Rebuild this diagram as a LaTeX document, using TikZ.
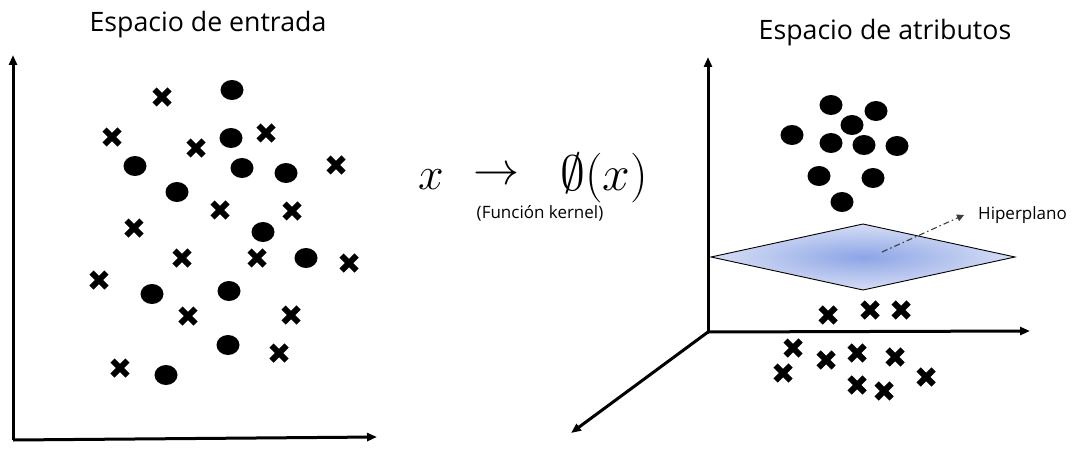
\documentclass[tikz,border=0pt]{standalone}
\usepackage{amssymb}
\usepackage{fontspec}
\setmainfont{Open Sans}
\usetikzlibrary{arrows.meta}
\definecolor{planein}{RGB}{140,165,230}
\definecolor{planeout}{RGB}{215,222,245}
\definecolor{hpgray}{RGB}{60,60,60}
\tikzset{
  axis/.style={line width=3pt, -{Triangle[length=10pt,width=8pt]}},
  xmk/.pic={\draw[line width=6pt] (-7.5,-7.5) -- (7.5,7.5) (-7.5,7.5) -- (7.5,-7.5);},
  titletxt/.style={font=\fontsize{26.7}{30}\selectfont, inner sep=0pt},
  smalltxt/.style={font=\fontsize{17}{20}\selectfont, inner sep=0pt},
  mathtxt/.style={font=\Huge, scale=1.85, inner sep=0pt},
}
\newcommand{\pxdot}[2]{\fill (#1,#2) ellipse [x radius=11.5pt, y radius=10pt];}
\begin{document}
\begin{tikzpicture}[x=1pt, y=-1pt]
\useasboundingbox (0,0) rectangle (1073,460);
% ---------- left panel ----------
\node[titletxt] (t1) at (208,25) {Espacio de entrada};
\coordinate (o1) at (13,440);
\coordinate (y1) at (13,55);
\coordinate (x1) at (377,437);
\draw[axis] (o1) -- (y1);
\draw[axis] (o1) -- (x1);
\foreach \a/\b in {232/90,231/138,135/166,242/168,286/173,177/192,263/232,306/258,152/294,229/291,228/345,166/375}
  {\pxdot{\a}{\b}}
\foreach \a/\b in {162/97,112/137,196/148,266/133,336/165,220/210,292/211,134/228,182/258,257/258,349/263,99/280,188/316,291/315,279/353,120/368}
  {\pic at (\a,\b) {xmk};}
% ---------- middle ----------
\node[mathtxt] (mx) at (431,180) {$x$};
\node[mathtxt] (ma) at (497,176) {$\rightarrow$};
\node[mathtxt, scale=1.08] (mp) at (604,178) {$\emptyset(x)$};
\node[smalltxt] (kf) at (540,213) {(Función kernel)};
% ---------- right panel ----------
\node[titletxt] (t2) at (885,33) {Espacio de atributos};
\coordinate (o2) at (708,332);
\coordinate (y2) at (708,57);
\coordinate (x2) at (1030,331);
\coordinate (z2) at (571,433);
\draw[axis] (o2) -- (y2);
\draw[axis] (o2) -- (x2);
\draw[axis] (o2) -- (z2);
\coordinate (pl) at (711,257);
\coordinate (pt) at (863,224);
\coordinate (pr) at (1015,257);
\coordinate (pb) at (863,290);
\shadedraw[inner color=planein, outer color=planeout, draw=black, line width=0.9pt]
  (pl) -- (pt) -- (pr) -- (pb) -- cycle;
\foreach \a/\b in {831/105,876/111,852/125,792/135,831/143,864/145,897/146,819/176,873/178,842/202}
  {\pxdot{\a}{\b}}
\foreach \a/\b in {828/315,870/310,901/310,793/348,826/360,857/353,895/357,783/373,857/385,884/391,926/377}
  {\pic at (\a,\b) {xmk};}
\coordinate (hs) at (882,252);
\coordinate (ht) at (964,215);
\node[smalltxt, anchor=west] (hp) at (978,215) {Hiperplano};
\draw[hpgray, line width=1.1pt, dash pattern=on 6pt off 3pt on 1.5pt off 3pt, -{Triangle[length=7pt,width=7pt]}] (hs) -- (ht);
\end{tikzpicture}
\end{document}
